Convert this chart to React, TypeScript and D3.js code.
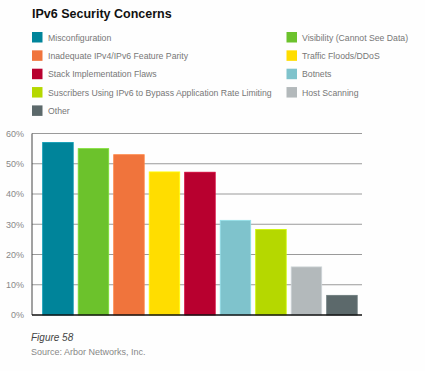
import React from "react";
import * as d3 from "d3";

const categories = [
  "Misconfiguration",
  "Visibility (Cannot See Data)",
  "Inadequate IPv4/IPv6 Feature Parity",
  "Traffic Floods/DDoS",
  "Stack Implementation Flaws",
  "Botnets",
  "Suscribers Using IPv6 to Bypass Application Rate Limiting",
  "Host Scanning",
  "Other",
];
const values = [57, 55, 53, 47.3, 47.2, 31.3, 28.3, 15.9, 6.5];
const colors = [
  "#00849a",
  "#6cc22c",
  "#f0743c",
  "#ffdd00",
  "#b8002f",
  "#7fc3cc",
  "#b5d800",
  "#b3b9bb",
  "#5c696b",
];
const yTicks = [0, 10, 20, 30, 40, 50, 60];
// legend layout order: left column, right column
const legendLeft = [0, 2, 4, 6, 8];
const legendRight = [1, 3, 5, 7];

const W = 425;
const H = 371;
const FONT = "'Liberation Sans', Arial, Helvetica, sans-serif";

export default function App() {
  const x = d3
    .scaleBand<number>()
    .domain(d3.range(categories.length))
    .range([40.2, 359.7])
    .paddingInner(0.14)
    .paddingOuter(0.07);
  const y = d3.scaleLinear().domain([0, 60]).range([315, 133.5]);
  const axisLeft = 32;
  const axisRight = 362;

  const legendRow = (i: number) => 32 + i * 18.35;

  return (
    <svg
      width={W}
      height={H}
      style={{ position: "absolute", left: 0, top: 0, background: "#fff" }}
      fontFamily={FONT}
    >
      <rect width={W} height={H} fill="#fefefe" />
      <text x={32} y={17.5} fontSize={12.5} fontWeight="bold" fill="#111">
        IPv6 Security Concerns
      </text>

      {legendLeft.map((ci, r) => (
        <g key={"l" + ci}>
          <rect x={32} y={legendRow(r)} width={10.5} height={10.5} fill={colors[ci]} />
          <text x={48} y={legendRow(r) + 8.6} fontSize={8.7} fill="#777">
            {categories[ci]}
          </text>
        </g>
      ))}
      {legendRight.map((ci, r) => (
        <g key={"r" + ci}>
          <rect x={286.5} y={legendRow(r)} width={10.5} height={10.5} fill={colors[ci]} />
          <text x={302} y={legendRow(r) + 8.6} fontSize={8.7} fill="#777">
            {categories[ci]}
          </text>
        </g>
      ))}

      {yTicks.map((t) => (
        <g key={t}>
          {t > 0 && (
            <line
              x1={axisLeft}
              x2={axisRight}
              y1={y(t)}
              y2={y(t)}
              stroke="#9a9a9a"
              strokeWidth={1}
            />
          )}
          <text
            x={24}
            y={y(t) + 3.3}
            fontSize={9}
            textAnchor="end"
            fill="#888"
          >
            {t}%
          </text>
        </g>
      ))}

      {values.map((v, i) => (
        <rect
          key={i}
          x={x(i)}
          y={y(v)}
          width={x.bandwidth()}
          height={y(0) - y(v)}
          fill={colors[i]}
          stroke={d3.color(colors[i])!.brighter(0.4).formatHex()}
          strokeWidth={0.8}
        />
      ))}

      <line x1={axisLeft} x2={axisLeft} y1={y(60)} y2={y(0)} stroke="#444" strokeWidth={1} />
      <line x1={axisLeft} x2={axisRight} y1={y(0)} y2={y(0)} stroke="#111" strokeWidth={1.5} />

      <text x={31} y={341} fontSize={10} fontStyle="italic" fill="#444">
        Figure 58
      </text>
      <text x={31} y={355} fontSize={9} fill="#888">
        Source: Arbor Networks, Inc.
      </text>
    </svg>
  );
}
